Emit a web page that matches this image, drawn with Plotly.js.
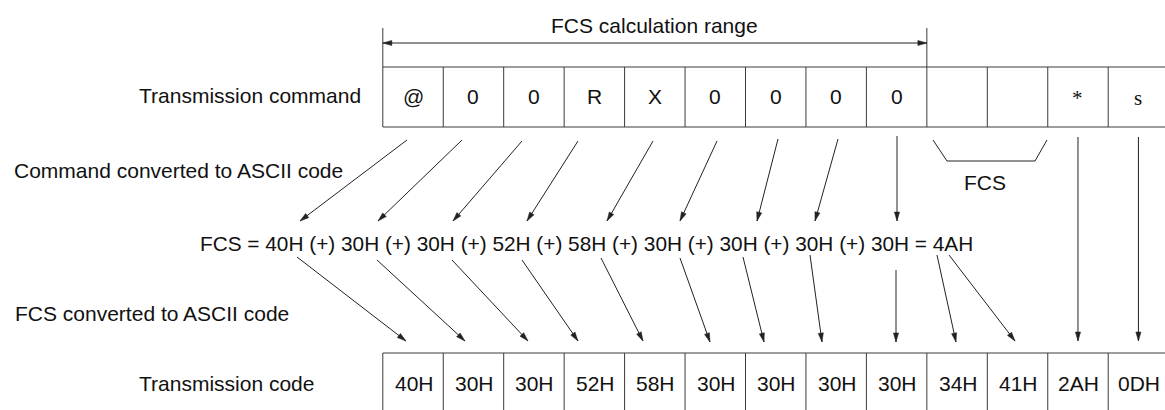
<!DOCTYPE html>
<html>
<head>
<meta charset="utf-8">
<script src="https://cdn.plot.ly/plotly-3.0.1.min.js"></script>
<style>html,body{margin:0;padding:0;background:#fff;}#chart{width:1165px;height:410px;}</style>
</head>
<body>
<div id="chart"></div>
<script>
// ---- content ----
const commandChars = ['@','0','0','R','X','0','0','0','0','','','*','s'];
const serifChars = ['*','s'];
const transmissionCodes = ['40H','30H','30H','52H','58H','30H','30H','30H','30H','34H','41H','2AH','0DH'];
const fcsTerms = ['40H','30H','30H','52H','58H','30H','30H','30H','30H'];
const fcsResult = '4AH';
const rowLabels = ['Transmission command','Command converted to ASCII code','FCS converted to ASCII code','Transmission code'];
const rangeLabel = 'FCS calculation range';
const fcsLabel = 'FCS';

// ---- geometry (pixel coordinates of the drawing) ----
const W = 1165, H = 410;
const gridX0 = 382.8, cellW = 60.45;
const topRow = [67, 127], bottomRow = [353, 420];
const rangeCells = 9;             // cells covered by FCS calculation range
const rangeArrowY = 43, rangeTickTop = 28;
const labelPos = [[137,95,'left'],[12,170,'left'],[13,313,'left'],[137,383,'left']];
const eqPos = [198, 243];
const upperArrows = [ // [x0,y0,x1,y1]
  [407,140,300,221],[462,140,378,221],[522,141,453,221],[578,141,527,221],
  [653,141,607,221],[717,141,680,221],[778,139,757,221],[838,139,815,221],[897,136,897,221]];
const lowerArrows = [
  [297,257,406,341],[377,260,465,341],[452,260,528,341],[522,260,578,341],
  [601,258,643,341],[680,258,710,342],[743,257,764,342],[810,255,822,342],
  [896,270,896,342],[937,255,956,342],[949,255,1015,341]];
const sideArrowCells = [11, 12];
const sideArrowY = [137, 341];
const bracket = [[933,140],[947,161],[1035,161],[1047,140]];
const fcsLabelPos = [985, 182];

const FONT = 'Liberation Sans, Arial, Helvetica, sans-serif';
const SERIF = 'Liberation Serif, Times New Roman, serif';
const FS = 21, EQ_FS = 20.8;
const LINE = '#222';
const BOX = '#3a3a3a';

const cx = i => gridX0 + (i + 0.5) * cellW;
const ex = i => gridX0 + i * cellW;

const shapes = [];
const annotations = [];
function line(x0,y0,x1,y1,color,w){
  shapes.push({type:'line',xref:'x',yref:'y',x0,y0,x1,y1,line:{color:color||LINE,width:w||1}});
}
function head(x0,y0,x1,y1){
  const L = 9, hw = 2.6;
  const dx = x1-x0, dy = y1-y0, d = Math.hypot(dx,dy);
  const ux = dx/d, uy = dy/d, px = -uy, py = ux;
  const bx = x1-ux*L, by = y1-uy*L;
  const p = `M${x1},${y1} L${bx+px*hw},${by+py*hw} L${bx-px*hw},${by-py*hw} Z`;
  shapes.push({type:'path',xref:'x',yref:'y',path:p,fillcolor:LINE,line:{color:LINE,width:0.5}});
}
function arrow(x0,y0,x1,y1){ line(x0,y0,x1,y1); head(x0,y0,x1,y1); }

// top row boxes
const nCells = commandChars.length;
line(ex(0), topRow[0], W+5, topRow[0], BOX);
line(ex(0), topRow[1], W+5, topRow[1], BOX);
for (let i=0;i<=nCells;i++) line(ex(i), topRow[0], ex(i), topRow[1], BOX);
// bottom row boxes
line(ex(0), bottomRow[0], W+5, bottomRow[0], BOX);
for (let i=0;i<=transmissionCodes.length;i++) line(ex(i), bottomRow[0], ex(i), bottomRow[1], BOX);

// FCS calculation range
line(ex(0), rangeTickTop, ex(0), topRow[0], BOX);
line(ex(rangeCells), rangeTickTop, ex(rangeCells), topRow[0], BOX);
line(ex(0), rangeArrowY, ex(rangeCells), rangeArrowY);
head(ex(rangeCells)-20, rangeArrowY, ex(rangeCells), rangeArrowY);
head(ex(0)+20, rangeArrowY, ex(0), rangeArrowY);
annotations.push({x:(ex(0)+ex(rangeCells))/2, y:25, text:rangeLabel, showarrow:false,
  xanchor:'center', yanchor:'middle', font:{family:FONT,size:FS,color:'#111'}});

// cell texts
commandChars.forEach((c,i)=>{
  if (!c) return;
  const serif = serifChars.includes(c);
  annotations.push({x:cx(i), y: serif ? 98 : 96, text:c, showarrow:false, xanchor:'center', yanchor:'middle',
    font:{family: serif ? SERIF : FONT, size: FS, color:'#111'}});
});
transmissionCodes.forEach((c,i)=>{
  annotations.push({x:cx(i)+1, y:383, text:c, showarrow:false, xanchor:'center', yanchor:'middle',
    font:{family:FONT, size:FS, color:'#111'}});
});

// row labels
rowLabels.forEach((t,i)=>{
  const [x,y,a] = labelPos[i];
  annotations.push({x, y, text:t, showarrow:false, xanchor:a, yanchor:'middle',
    font:{family:FONT,size:FS,color:'#111'}});
});

// equation
const eq = 'FCS = ' + fcsTerms.join(' (+) ') + ' = ' + fcsResult;
annotations.push({x:eqPos[0], y:eqPos[1], text:eq, showarrow:false, xanchor:'left', yanchor:'middle',
  font:{family:FONT,size:EQ_FS,color:'#111'}});

// arrows
upperArrows.forEach(a=>arrow(...a));
lowerArrows.forEach(a=>arrow(...a));
sideArrowCells.forEach(i=>arrow(cx(i), sideArrowY[0], cx(i), sideArrowY[1]));

// FCS bracket
for (let k=0;k<bracket.length-1;k++) line(bracket[k][0],bracket[k][1],bracket[k+1][0],bracket[k+1][1]);
annotations.push({x:fcsLabelPos[0], y:fcsLabelPos[1], text:fcsLabel, showarrow:false, xanchor:'center', yanchor:'middle',
  font:{family:FONT,size:FS,color:'#111'}});

const layout = {
  width: W, height: H,
  margin:{l:0,r:0,t:0,b:0,pad:0},
  paper_bgcolor:'#fff', plot_bgcolor:'#fff',
  xaxis:{range:[0,W], visible:false, fixedrange:true},
  yaxis:{range:[H,0], visible:false, fixedrange:true},
  showlegend:false,
  shapes, annotations
};
Plotly.newPlot('chart', [{x:[],y:[],type:'scatter',hoverinfo:'skip'}], layout, {staticPlot:true, displayModeBar:false});
</script>
</body>
</html>
